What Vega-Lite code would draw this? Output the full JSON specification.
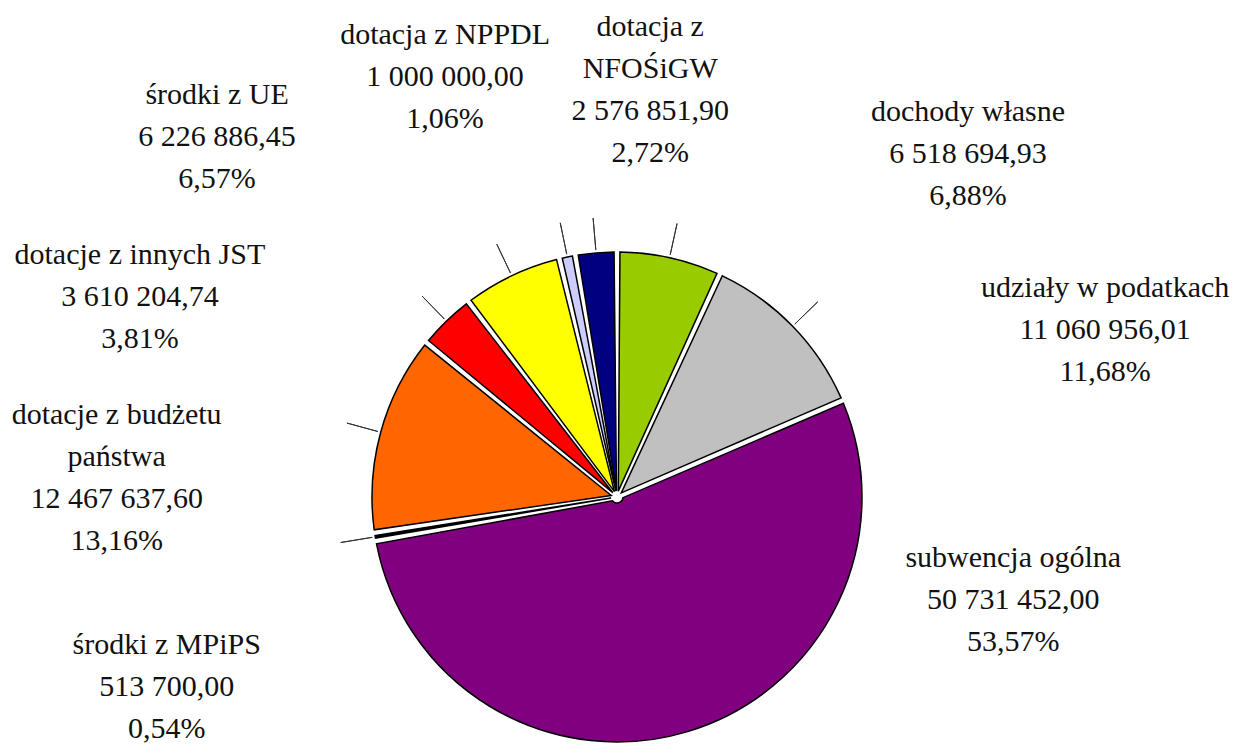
{
  "$schema": "https://vega.github.io/schema/vega-lite/v6.json",
  "width": 1234,
  "height": 514,
  "autosize": "none",
  "padding": {"top": 240, "left": 0, "right": 0, "bottom": 0},
  "background": "white",
  "view": {"stroke": null},
  "data": {
    "values": [
      {"idx": 1, "kategoria": "dochody własne", "kwota": 6518694.93, "label": "dochody własne\n6 518 694,93\n6,88%"},
      {"idx": 2, "kategoria": "udziały w podatkach", "kwota": 11060956.01, "label": "udziały w podatkach\n11 060 956,01\n11,68%"},
      {"idx": 3, "kategoria": "subwencja ogólna", "kwota": 50731452.00, "label": "subwencja ogólna\n50 731 452,00\n53,57%"},
      {"idx": 4, "kategoria": "środki z MPiPS", "kwota": 513700.00, "label": "środki z MPiPS\n513 700,00\n0,54%"},
      {"idx": 5, "kategoria": "dotacje z budżetu państwa", "kwota": 12467637.60, "label": "dotacje z budżetu\npaństwa\n12 467 637,60\n13,16%"},
      {"idx": 6, "kategoria": "dotacje z innych JST", "kwota": 3610204.74, "label": "dotacje z innych JST\n3 610 204,74\n3,81%"},
      {"idx": 7, "kategoria": "środki z UE", "kwota": 6226886.45, "label": "środki z UE\n6 226 886,45\n6,57%"},
      {"idx": 8, "kategoria": "dotacja z NPPDL", "kwota": 1000000.00, "label": "dotacja z NPPDL\n1 000 000,00\n1,06%"},
      {"idx": 9, "kategoria": "dotacja z NFOŚiGW", "kwota": 2576851.90, "label": "dotacja z\nNFOŚiGW\n2 576 851,90\n2,72%"}
    ]
  },
  "encoding": {
    "theta": {"field": "kwota", "type": "quantitative", "stack": true},
    "order": {"field": "idx", "type": "quantitative"}
  },
  "layer": [
    {
      "mark": {"type": "arc", "outerRadius": 245, "innerRadius": 6, "padAngle": 0.024, "stroke": "#000000", "strokeWidth": 1.5},
      "encoding": {
        "color": {
          "field": "kategoria",
          "type": "nominal",
          "legend": null,
          "scale": {
            "domain": ["dochody własne", "udziały w podatkach", "subwencja ogólna", "środki z MPiPS", "dotacje z budżetu państwa", "dotacje z innych JST", "środki z UE", "dotacja z NPPDL", "dotacja z NFOŚiGW"],
            "range": ["#99CC00", "#C0C0C0", "#800080", "#000000", "#FF6600", "#FF0000", "#FFFF00", "#CCCCFF", "#000080"]
          }
        }
      }
    },
    {
      "mark": {"type": "arc", "outerRadius": 280, "innerRadius": 248, "padAngle": 3.14, "fill": "transparent", "stroke": "#333333", "strokeWidth": 1},
      "encoding": {
        "strokeOpacity": {"condition": {"test": "datum.idx === 3", "value": 0}, "value": 1}
      }
    },
    {
      "mark": {"type": "text", "radius": 521, "thetaOffset": 0.523, "font": "Liberation Serif", "fontSize": 30, "lineHeight": 42, "lineBreak": "\n", "align": "center", "baseline": "middle", "color": "#111111"},
      "encoding": {"text": {"condition": {"test": "datum.idx === 1", "field": "label", "type": "nominal"}, "value": ""}}
    },
    {
      "mark": {"type": "text", "radius": 531, "thetaOffset": 0.367, "font": "Liberation Serif", "fontSize": 30, "lineHeight": 42, "lineBreak": "\n", "align": "center", "baseline": "middle", "color": "#111111"},
      "encoding": {"text": {"condition": {"test": "datum.idx === 2", "field": "label", "type": "nominal"}, "value": ""}}
    },
    {
      "mark": {"type": "text", "radius": 401, "thetaOffset": -1.125, "font": "Liberation Serif", "fontSize": 30, "lineHeight": 42, "lineBreak": "\n", "align": "center", "baseline": "middle", "color": "#111111"},
      "encoding": {"text": {"condition": {"test": "datum.idx === 3", "field": "label", "type": "nominal"}, "value": ""}}
    },
    {
      "mark": {"type": "text", "radius": 474, "thetaOffset": -0.154, "font": "Liberation Serif", "fontSize": 30, "lineHeight": 42, "lineBreak": "\n", "align": "center", "baseline": "middle", "color": "#111111"},
      "encoding": {"text": {"condition": {"test": "datum.idx === 4", "field": "label", "type": "nominal"}, "value": ""}}
    },
    {
      "mark": {"type": "text", "radius": 507, "thetaOffset": -0.105, "font": "Liberation Serif", "fontSize": 30, "lineHeight": 42, "lineBreak": "\n", "align": "center", "baseline": "middle", "color": "#111111"},
      "encoding": {"text": {"condition": {"test": "datum.idx === 5", "field": "label", "type": "nominal"}, "value": ""}}
    },
    {
      "mark": {"type": "text", "radius": 535, "thetaOffset": -0.331, "font": "Liberation Serif", "fontSize": 30, "lineHeight": 42, "lineBreak": "\n", "align": "center", "baseline": "middle", "color": "#111111"},
      "encoding": {"text": {"condition": {"test": "datum.idx === 6", "field": "label", "type": "nominal"}, "value": ""}}
    },
    {
      "mark": {"type": "text", "radius": 567, "thetaOffset": -0.339, "font": "Liberation Serif", "fontSize": 30, "lineHeight": 42, "lineBreak": "\n", "align": "center", "baseline": "middle", "color": "#111111"},
      "encoding": {"text": {"condition": {"test": "datum.idx === 7", "field": "label", "type": "nominal"}, "value": ""}}
    },
    {
      "mark": {"type": "text", "radius": 493, "thetaOffset": -0.152, "font": "Liberation Serif", "fontSize": 30, "lineHeight": 42, "lineBreak": "\n", "align": "center", "baseline": "middle", "color": "#111111"},
      "encoding": {"text": {"condition": {"test": "datum.idx === 8", "field": "label", "type": "nominal"}, "value": ""}}
    },
    {
      "mark": {"type": "text", "radius": 471, "thetaOffset": 0.156, "font": "Liberation Serif", "fontSize": 30, "lineHeight": 42, "lineBreak": "\n", "align": "center", "baseline": "middle", "color": "#111111"},
      "encoding": {"text": {"condition": {"test": "datum.idx === 9", "field": "label", "type": "nominal"}, "value": ""}}
    }
  ]
}
